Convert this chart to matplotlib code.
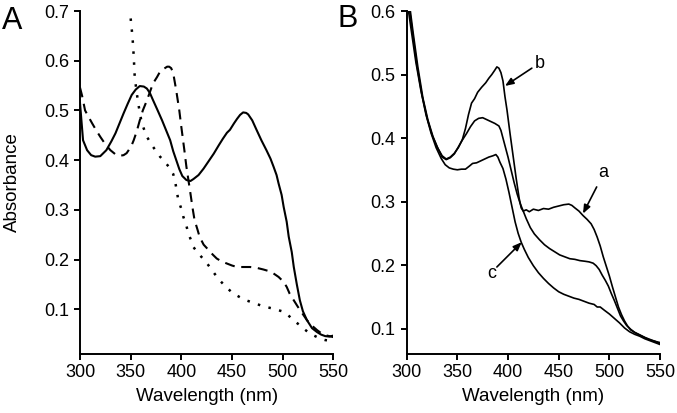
import matplotlib
matplotlib.use("Agg")
import matplotlib.pyplot as plt

plt.rcParams['font.family'] = ['Liberation Sans', 'DejaVu Sans']

# ---- panel A ----
solid_x = [300, 301, 303, 307, 311, 315, 320, 326, 331, 335, 339, 343, 347, 351, 355, 359,
           363, 366, 369, 372, 376, 381, 385, 389, 392, 395, 398, 401, 405, 409, 412,
           417, 422, 427, 432, 437, 441, 445, 448, 452, 455, 458, 461, 464, 466, 470,
           474, 479, 484, 488, 491, 494, 496, 499, 501, 504, 506, 509, 511, 514, 517,
           520, 524, 529, 534, 538, 542, 546, 550]
solid_y = [0.515, 0.49, 0.44, 0.42, 0.41, 0.407, 0.408, 0.42, 0.438, 0.454, 0.474, 0.494,
           0.513, 0.531, 0.542, 0.549, 0.548, 0.544, 0.535, 0.521, 0.503, 0.48, 0.46,
           0.44, 0.418, 0.40, 0.382, 0.368, 0.36, 0.358, 0.362, 0.37, 0.383, 0.398,
           0.413, 0.43, 0.443, 0.455, 0.461, 0.474, 0.483, 0.491, 0.496, 0.495, 0.492,
           0.48, 0.462, 0.44, 0.42, 0.403, 0.387, 0.37, 0.353, 0.33, 0.306, 0.276,
           0.246, 0.215, 0.185, 0.15, 0.118, 0.096, 0.078, 0.062, 0.054, 0.049,
           0.046, 0.045, 0.047]

dash_x = [300, 302, 305, 309, 312, 316, 320, 325, 330, 336, 340, 343, 346, 348, 351, 353,
          356, 359, 362, 366, 369, 372, 376, 379, 383, 386, 388, 390, 392, 395, 398,
          400, 403, 405, 407, 409, 411, 413, 416, 418, 422, 427, 431, 435, 440, 445,
          450, 455, 462, 468, 475, 481, 486, 491, 496, 501, 504, 507, 511, 515, 520,
          524, 529, 534, 538, 542, 546, 550]
dash_y = [0.546, 0.53, 0.50, 0.485, 0.474, 0.46, 0.447, 0.432, 0.42, 0.41, 0.409, 0.41,
          0.414, 0.42, 0.43, 0.44, 0.458, 0.48, 0.50, 0.52, 0.537, 0.554, 0.567, 0.578,
          0.584, 0.588, 0.588, 0.585, 0.575, 0.54, 0.50, 0.467, 0.42, 0.387, 0.36,
          0.333, 0.305, 0.28, 0.26, 0.246, 0.23, 0.219, 0.21, 0.202, 0.196, 0.192,
          0.188, 0.185, 0.185, 0.185, 0.183, 0.18, 0.177, 0.172, 0.165, 0.155, 0.145,
          0.131, 0.118, 0.105, 0.09, 0.078, 0.067, 0.058, 0.052, 0.048, 0.046, 0.044]

dot_x = [350, 351, 352, 353, 354, 356, 358, 361, 366, 372, 379, 384, 389, 392, 394, 397,
         400, 402, 405, 407, 410, 412, 416, 420, 424, 428, 433, 438, 444, 451, 458,
         464, 471, 478, 485, 491, 496, 501, 505, 509, 513, 517, 522, 527, 532, 537,
         542, 546, 550]
dot_y = [0.685, 0.665, 0.642, 0.61, 0.568, 0.535, 0.508, 0.474, 0.447, 0.427, 0.407,
         0.396, 0.383, 0.372, 0.356, 0.32, 0.302, 0.286, 0.268, 0.252, 0.237, 0.225,
         0.214, 0.205, 0.196, 0.185, 0.171, 0.158, 0.145, 0.132, 0.124, 0.118, 0.113,
         0.108, 0.104, 0.101, 0.098, 0.095, 0.089, 0.081, 0.074, 0.068, 0.059, 0.051,
         0.046, 0.041, 0.038, 0.037, 0.036]

# ---- panel B ----
b_x = [301, 305, 310, 315, 320, 325, 330, 335, 339, 343, 347, 351, 355, 358, 361, 364,
       367, 370, 374, 378, 381, 384, 387, 389, 391, 393, 395, 397, 399, 402, 405, 408,
       411, 413, 415, 418, 421, 425, 430, 435, 440, 445, 450, 455, 460, 463, 466, 470,
       474, 478, 482, 485, 488, 491, 494, 497, 500, 503, 506, 509, 512, 515, 518, 521,
       525, 530, 535, 540, 545, 550]
b_y = [0.625, 0.575, 0.515, 0.468, 0.432, 0.405, 0.386, 0.372, 0.367, 0.370, 0.376,
       0.385, 0.398, 0.415, 0.437, 0.455, 0.462, 0.472, 0.480, 0.487, 0.494, 0.500,
       0.507, 0.512, 0.510, 0.503, 0.490, 0.465, 0.444, 0.407, 0.372, 0.337, 0.305,
       0.290, 0.285, 0.287, 0.284, 0.288, 0.286, 0.289, 0.288, 0.291, 0.293, 0.295,
       0.296, 0.294, 0.290, 0.285, 0.278, 0.272, 0.265, 0.256, 0.244, 0.230, 0.213,
       0.198, 0.183, 0.166, 0.150, 0.134, 0.122, 0.112, 0.104, 0.098, 0.094, 0.090,
       0.086, 0.082, 0.080, 0.076]

m_x = [302, 306, 311, 316, 321, 326, 331, 335, 339, 343, 347, 351, 355, 359, 363, 367,
       371, 375, 379, 383, 387, 391, 393, 395, 397, 400, 403, 406, 409, 412, 415, 418,
       422, 426, 431, 436, 441, 446, 451, 456, 461, 466, 471, 476, 480, 484, 487, 490,
       493, 496, 499, 502, 505, 508, 511, 514, 517, 521, 525, 530, 535, 540, 545, 550]
m_y = [0.62, 0.570, 0.512, 0.463, 0.428, 0.402, 0.383, 0.370, 0.366, 0.369, 0.375,
       0.386, 0.397, 0.407, 0.418, 0.427, 0.431, 0.432, 0.429, 0.426, 0.423, 0.419,
       0.412, 0.400, 0.388, 0.370, 0.350, 0.330, 0.312, 0.297, 0.285, 0.273, 0.259,
       0.249, 0.240, 0.232, 0.226, 0.221, 0.216, 0.213, 0.210, 0.209, 0.207, 0.206,
       0.205, 0.203, 0.199, 0.193, 0.184, 0.176, 0.167, 0.155, 0.144, 0.132, 0.120,
       0.112, 0.105, 0.099, 0.094, 0.090, 0.086, 0.083, 0.080, 0.078]

c_x = [300, 304, 309, 314, 319, 324, 329, 334, 338, 342, 346, 350, 354, 358, 362, 365,
       369, 373, 377, 381, 385, 388, 390, 392, 395, 398, 401, 404, 407, 410, 413, 416,
       420, 425, 430, 435, 440, 445, 450, 455, 460, 465, 470, 475, 480, 485, 488, 491,
       495, 500, 505, 510, 515, 520, 525, 530, 535, 540, 545, 550]
c_y = [0.62, 0.575, 0.520, 0.475, 0.437, 0.408, 0.385, 0.368, 0.358, 0.353, 0.351,
       0.350, 0.351, 0.351, 0.356, 0.360, 0.361, 0.364, 0.367, 0.370, 0.372, 0.374,
       0.370, 0.362, 0.352, 0.335, 0.314, 0.291, 0.268, 0.250, 0.236, 0.225, 0.212,
       0.199, 0.188, 0.179, 0.171, 0.164, 0.158, 0.154, 0.151, 0.148, 0.146, 0.143,
       0.140, 0.138, 0.134, 0.134, 0.129, 0.123, 0.116, 0.109, 0.101, 0.095, 0.091,
       0.088, 0.084, 0.081, 0.078, 0.075]

# label text, text position, arrow tip
labels = ['b', 'a', 'c']
label_xy = [(431, 0.518), (494, 0.345), (384, 0.187)]
tip_xy = [(397, 0.482), (474, 0.281), (413.5, 0.236)]
tail_xy = [(423.5, 0.510), (487.5, 0.323), (389, 0.197)]

W, H = 677, 413
fig = plt.figure(figsize=(W / 100, H / 100), dpi=100)
axA = fig.add_axes([80 / W, 1 - 354 / H, 253.3 / W, 343 / H])
axB = fig.add_axes([406.7 / W, 1 - 354 / H, 253.3 / W, 343 / H])

axA.plot(solid_x, solid_y, color="black", lw=1.5)
axA.plot(dash_x, dash_y, color="black", lw=1.5, linestyle=(0, (4.8, 3.2)))
axA.plot(dot_x, dot_y, color="black", lw=1.8, linestyle=(0, (1, 3.4)))
axA.set_ylim(0.01, 0.7)
axA.set_yticks([0.1, 0.2, 0.3, 0.4, 0.5, 0.6, 0.7])

axB.plot(b_x, b_y, color="black", lw=1.2)
axB.plot(m_x, m_y, color="black", lw=1.2)
axB.plot(c_x, c_y, color="black", lw=1.2)
axB.set_ylim(0.06, 0.6)
axB.set_yticks([0.1, 0.2, 0.3, 0.4, 0.5, 0.6])

for lab, txy, tip, tail in zip(labels, label_xy, tip_xy, tail_xy):
    axB.text(txy[0], txy[1], lab, fontsize=13, ha="center", va="center")
    axB.annotate("", xy=tip, xytext=tail,
                 arrowprops=dict(arrowstyle="-|>,head_length=0.5,head_width=0.2",
                                 color="black", lw=1.2, shrinkA=0, shrinkB=0))

for ax in (axA, axB):
    ax.set_xlim(300, 550)
    ax.set_xticks([300, 350, 400, 450, 500, 550])
    ax.spines['top'].set_visible(False)
    ax.spines['right'].set_visible(False)
    ax.spines['left'].set_linewidth(1.4)
    ax.spines['bottom'].set_linewidth(1.4)
    ax.tick_params(direction="out", length=4, width=1.4, labelsize=13)
    ax.tick_params(axis="x", pad=3.5)
    ax.tick_params(axis="y", pad=4)
    ax.set_xlabel("Wavelength (nm)", fontsize=13.5)
    ax.xaxis.set_label_coords(0.5, -0.1)

axA.set_ylabel("Absorbance", fontsize=13.5)
axA.yaxis.set_label_coords(-0.235, 0.5)

fig.text(2 / W, 1 - 29 / H, "A", fontsize=22, va="baseline")
fig.text(338 / W, 1 - 27 / H, "B", fontsize=22, va="baseline")

fig.savefig("out.png", dpi=100)
